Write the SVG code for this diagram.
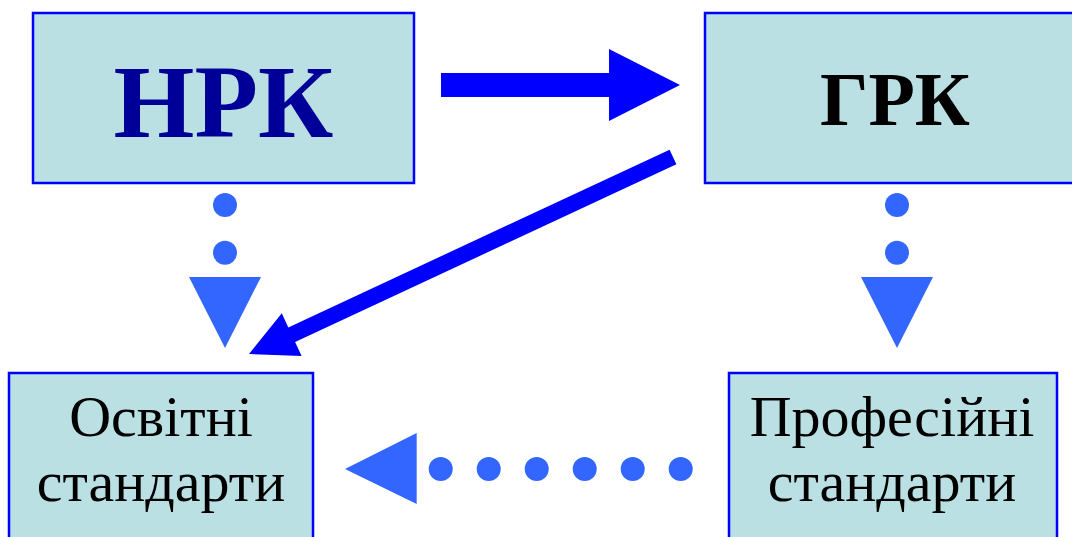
<svg xmlns="http://www.w3.org/2000/svg" width="1072" height="537" viewBox="0 0 1072 537">
<style>
.box{fill:#bbe0e3;stroke:#0000ff;stroke-width:2.5}
.big{font-family:"Liberation Serif","Times New Roman",serif;font-weight:bold;text-anchor:middle}
.lbl{font-family:"Liberation Serif","Times New Roman",serif;font-size:58px;fill:#000;text-anchor:middle}
.dot{fill:#3366ff}
.solid{fill:#0000ff}
</style>
<rect width="1072" height="537" fill="#ffffff"/>
<g id="node-nrk">
<rect class="box" x="33" y="13" width="381" height="170"/>
<text class="big" x="223.5" y="137" font-size="104" fill="#000099">НРК</text>
</g>
<g id="node-grk">
<rect class="box" x="705" y="13" width="382" height="170"/>
<text class="big" x="895" y="125" font-size="76" fill="#000000">ГРК</text>
</g>
<g id="node-osvitni">
<rect class="box" x="9" y="373" width="304" height="180"/>
<text class="lbl" x="161" y="436">Освітні</text>
<text class="lbl" x="161" y="501">стандарти</text>
</g>
<g id="node-profesiini">
<rect class="box" x="729" y="373" width="328" height="180"/>
<text class="lbl" x="892" y="436">Професійні</text>
<text class="lbl" x="892" y="501">стандарти</text>
</g>
<g id="connectors">
<polygon class="solid" points="441,73 609,73 609,49 680,85 609,121 609,97 441,97"/>
<polygon class="solid" points="669.6,149.7 288.3,327.4 281.8,313.3 249,354 301.6,356.1 295.1,342 676.4,164.3"/>
<g class="dot">
<circle cx="225" cy="205" r="12"/>
<circle cx="225" cy="252.7" r="12"/>
<polygon points="189,277 261,277 225,348"/>
<circle cx="897" cy="205" r="12"/>
<circle cx="897" cy="252.7" r="12"/>
<polygon points="861,277 933,277 897,348"/>
<circle cx="680.7" cy="469" r="12"/>
<circle cx="632.7" cy="469" r="12"/>
<circle cx="584.7" cy="469" r="12"/>
<circle cx="536.7" cy="469" r="12"/>
<circle cx="488.7" cy="469" r="12"/>
<circle cx="440.7" cy="469" r="12"/>
<polygon points="416.7,433 416.7,504 345,469"/>
</g>
</g>
</svg>
